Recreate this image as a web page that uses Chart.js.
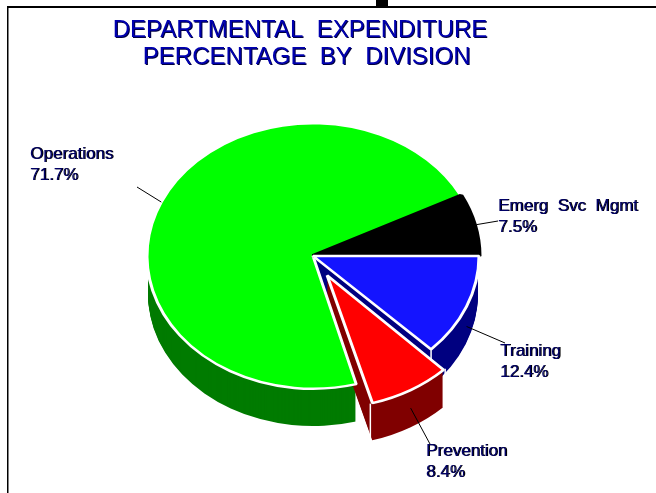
<!DOCTYPE html>
<html>
<head>
<meta charset="utf-8">
<style>html,body{margin:0;padding:0;background:#fff}#w{width:656px;height:493px}canvas{display:block}</style>
<script src="https://cdn.jsdelivr.net/npm/chart.js@4"></script>
</head>
<body>
<div id="w"><canvas id="c" width="656" height="493"></canvas></div>
<script>
const categories = ['Operations', 'Emerg  Svc  Mgmt', 'Training', 'Prevention'];
const percentages = [71.7, 7.5, 12.4, 8.4];
const topColors = ['#00ff00', '#000000', '#1414ff', '#ff0000'];
const wallColors = ['#007b00', null, '#000080', '#800000'];
const borderColors = ['#ffffff', '#000000', '#ffffff', '#ffffff'];
const borderWidths = [3, 5, 3, 3];
const explode = [0, 0, 0, 112];
const titleLines = ['DEPARTMENTAL  EXPENDITURE', '  PERCENTAGE  BY  DIVISION'];

const view = {cx: 313, cy: 256, squash: 0.8, depth: 38};
const labelSpots = [
  {tx: 30, ty: 154, ex: 137, ey: 187, drop: 0, r: 166},
  {tx: 498, ty: 206, ex: 498, ey: 221, drop: 0, r: 168},
  {tx: 500, ty: 351, ex: 505, ey: 343, drop: 20, r: 166},
  {tx: 426, ty: 451, ex: 430, ey: 444, drop: 18, r: 166}
];
const radiusGrowth = (off, circ) => off * (1 - Math.sin(Math.min(Math.PI, circ)));

const pie3d = {
  id: 'pie3d',
  beforeDraw(chart) {
    const ctx = chart.ctx;
    ctx.save();
    ctx.fillStyle = '#000';
    ctx.fillRect(7, 6, 649, 2);
    ctx.fillRect(7, 6, 1.5, 487);
    ctx.fillRect(376, 0, 12, 7);
    ctx.restore();
    ctx.shadowColor = '#000040';
    ctx.shadowOffsetX = 1;
    ctx.shadowOffsetY = 1;
    ctx.shadowBlur = 0;
  },
  afterUpdate(chart) {
    chart.getDatasetMeta(0).data.forEach((el, i) => {
      el.outerRadius -= radiusGrowth(explode[i] / 4, el.circumference);
    });
  },
  beforeDatasetsDraw(chart) {
    const ctx = chart.ctx;
    ctx.shadowColor = 'transparent';
    ctx.shadowOffsetX = 0;
    ctx.shadowOffsetY = 0;
    const arcs = chart.getDatasetMeta(0).data;
    const x0 = arcs[0].x, y0 = arcs[0].y;
    ctx.save();
    ctx.translate(view.cx, view.cy);
    ctx.scale(1, view.squash);
    ctx.translate(-x0, -y0);
    const stepY = 1 / view.squash;
    arcs.forEach((el, i) => {
      if (!wallColors[i]) return;
      const wall = new Chart.ArcElement({
        x: el.x, y: el.y, startAngle: el.startAngle, endAngle: el.endAngle,
        circumference: el.circumference, innerRadius: 0, outerRadius: el.outerRadius - 1,
        options: {backgroundColor: wallColors[i], borderColor: wallColors[i], borderWidth: 0,
          borderAlign: 'center', borderRadius: 0, offset: explode[i], spacing: 0, circular: true}
      });
      for (let d = view.depth; d >= 1; d--) {
        ctx.save();
        ctx.translate(0, d * stepY);
        wall.draw(ctx);
        ctx.restore();
      }
      const mid = (el.startAngle + el.endAngle) / 2;
      const off = explode[i] / 4;
      const ox = el.x + Math.cos(mid) * off;
      const oy = el.y + Math.sin(mid) * off;
      const r = el.outerRadius + radiusGrowth(off, el.circumference);
      ctx.strokeStyle = '#fff';
      ctx.lineWidth = 1.5;
      [el.startAngle, el.endAngle].forEach(a => {
        const px = ox + Math.cos(a) * r, py = oy + Math.sin(a) * r;
        ctx.beginPath();
        ctx.moveTo(px, py);
        ctx.lineTo(px, py + view.depth * stepY);
        ctx.stroke();
      });
    });
  },
  afterDatasetsDraw(chart) {
    const ctx = chart.ctx;
    ctx.restore();
    const arcs = chart.getDatasetMeta(0).data;
    const x0 = arcs[0].x, y0 = arcs[0].y;
    ctx.save();
    ctx.font = '17px "Liberation Sans"';
    ctx.textBaseline = 'middle';
    ctx.textAlign = 'left';
    arcs.forEach((el, i) => {
      const s = labelSpots[i];
      const mid = (el.startAngle + el.endAngle) / 2;
      const off = explode[i] / 4;
      const sx = view.cx + (el.x - x0) + Math.cos(mid) * (off + s.r);
      const sy = view.cy + ((el.y - y0) + Math.sin(mid) * (off + s.r)) * view.squash + s.drop;
      ctx.strokeStyle = '#000';
      ctx.lineWidth = 1;
      ctx.shadowColor = 'transparent';
      ctx.beginPath();
      ctx.moveTo(sx, sy);
      ctx.lineTo(s.ex, s.ey);
      ctx.stroke();
      ctx.shadowColor = '#000000';
      ctx.shadowOffsetX = 1;
      ctx.shadowOffsetY = 0;
      ctx.fillStyle = '#000066';
      ctx.fillText(categories[i], s.tx, s.ty);
      ctx.fillText(percentages[i].toFixed(1) + '%', s.tx, s.ty + 21);
      ctx.shadowOffsetX = 0;
    });
    ctx.restore();
  }
};

new Chart(document.getElementById('c'), {
  type: 'pie',
  data: {
    labels: categories,
    datasets: [{
      data: percentages,
      backgroundColor: topColors,
      borderColor: borderColors,
      borderWidth: borderWidths,
      offset: explode,
      clip: false
    }]
  },
  options: {
    responsive: false,
    animation: false,
    rotation: 164.9,
    radius: 166,
    layout: {padding: {left: 0, right: 56, top: 17, bottom: 0}},
    plugins: {
      legend: {display: false},
      tooltip: {enabled: false},
      title: {
        display: true,
        text: titleLines,
        color: '#0000b0',
        font: {family: '"Liberation Sans"', size: 24, weight: 'normal', lineHeight: 1.12},
        padding: 0
      }
    }
  },
  plugins: [pie3d]
});
</script>
</body>
</html>
